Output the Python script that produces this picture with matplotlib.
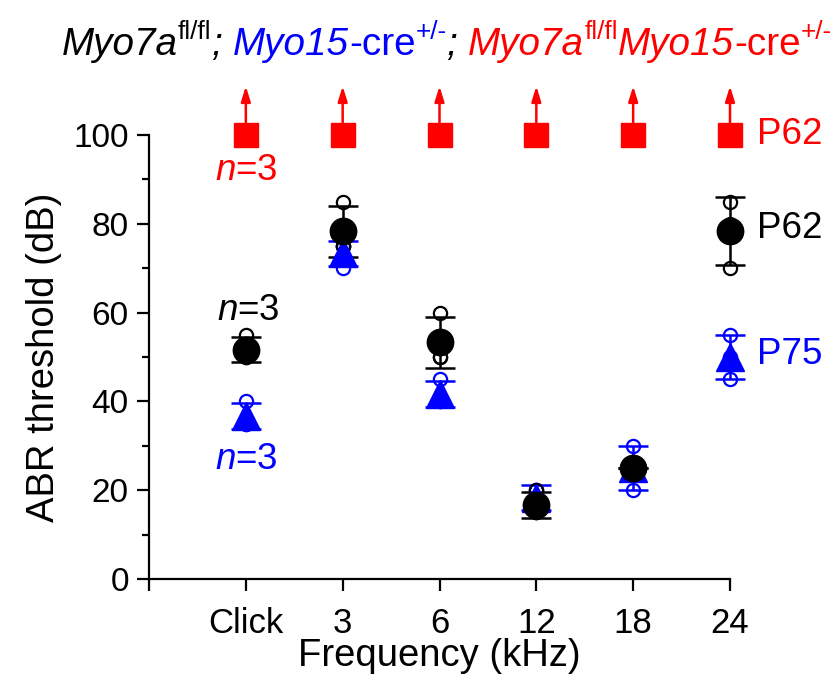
import numpy as np
import matplotlib
matplotlib.use("Agg")
import matplotlib.pyplot as plt

plt.rcParams['font.family'] = ['Liberation Sans', 'DejaVu Sans']
plt.rcParams['mathtext.fontset'] = 'custom'
plt.rcParams['mathtext.rm'] = 'Liberation Sans'
plt.rcParams['mathtext.it'] = 'Liberation Sans:italic'

# ---- data ----
categories = ['Click', '3', '6', '12', '18', '24']
ctrl_individual = [[55, 50, 50], [85, 75, 75], [60, 50, 50],
                   [20, 15, 15], [25, 25, 25], [85, 80, 70]]   # Myo7a fl/fl, P62
cre_individual = [[40, 35, 35], [75, 75, 70], [45, 40, 40],
                  [20, 20, 15], [30, 25, 20], [55, 50, 45]]    # Myo15-cre+/-, P75
cko_threshold = [100, 100, 100, 100, 100, 100]                 # Myo7a fl/fl Myo15-cre+/-, P62 (no response)

BLACK = 'black'
BLUE = '#0000FF'
RED = '#FF0000'

fig = plt.figure(figsize=(8.4, 6.84), dpi=100)
ax = fig.add_axes([149/840, 1-579/684, (730-149)/840, (579-135)/684])

x = np.arange(1, len(categories) + 1)

def draw_group(ind, color, marker, ms):
    arr = np.array(ind, dtype=float)
    mean = arr.mean(axis=1)
    sd = arr.std(axis=1, ddof=1)
    ax.errorbar(x, mean, yerr=sd, fmt='none', ecolor=color, elinewidth=1.8,
                capsize=11, capthick=1.8, clip_on=False, zorder=3)
    for i in range(arr.shape[1]):
        ax.plot(x, arr[:, i], 'o', ms=9.5, mfc='none', mec=color, mew=1.6,
                clip_on=False, zorder=3.5)
    ax.plot(x, mean, marker, ms=ms, color=color, mec=color, clip_on=False, zorder=4)

draw_group(cre_individual, BLUE, '^', 20)
draw_group(ctrl_individual, BLACK, 'o', 19)

# knockout: no response at max level
ax.plot(x, cko_threshold, 's', ms=17, color=RED, clip_on=False, zorder=4)
for xi, yi in zip(x, cko_threshold):
    ax.annotate('', xy=(xi, yi + 11), xytext=(xi, yi + 1.5),
                arrowprops=dict(arrowstyle='-|>,head_length=0.9,head_width=0.28',
                                color=RED, lw=1.8, shrinkA=0, shrinkB=0),
                annotation_clip=False)

# axes styling
ax.set_xlim(0, 6)
ax.set_ylim(0, 100)
ax.set_xticks(np.arange(0, 7))
ax.set_xticklabels([''] + categories)
ax.set_yticks(np.arange(0, 101, 20))
ax.set_yticks(np.arange(10, 100, 20), minor=True)
for s in ['top', 'right']:
    ax.spines[s].set_visible(False)
for s in ['left', 'bottom']:
    ax.spines[s].set_linewidth(1.6)
ax.tick_params(axis='both', which='major', direction='out', length=8.5, width=1.6, pad=6)
ax.tick_params(axis='x', labelsize=25, pad=12)
ax.tick_params(axis='y', labelsize=24, pad=6)
ax.tick_params(axis='y', which='minor', direction='out', length=5, width=1.6)
ax.set_xlabel('Frequency (kHz)', fontsize=27.5, labelpad=-2)
ax.set_ylabel('ABR threshold (dB)', fontsize=27.5, labelpad=8)

# annotations
ANN = 26.5
ax.text(6.28, 79, 'P62', color=BLACK, fontsize=ANN, va='center', ha='left', clip_on=False)
ax.text(6.28, 50.5, 'P75', color=BLUE, fontsize=ANN, va='center', ha='left', clip_on=False)
ax.text(6.28, 100, 'P62', color=RED, fontsize=ANN, va='center', ha='left', clip_on=False)
ax.text(1.03, 60.5, r'$\mathit{n}$=3', color=BLACK, fontsize=ANN, va='center', ha='center')
ax.text(1.0, 27, r'$\mathit{n}$=3', color=BLUE, fontsize=ANN, va='center', ha='center')
ax.text(1.0, 92, r'$\mathit{n}$=3', color=RED, fontsize=ANN, va='center', ha='center')

# multi-coloured title: (text, colour, italic, superscript)
pieces = [
    ('Myo7a', BLACK, True, False), ('fl/fl', BLACK, False, True), ('; ', BLACK, True, False),
    ('Myo15', BLUE, True, False), ('-cre', BLUE, False, False), ('+/-', BLUE, False, True),
    ('; ', BLACK, True, False),
    ('Myo7a', RED, True, False), ('fl/fl', RED, False, True),
    ('Myo15', RED, True, False), ('-cre', RED, False, False), ('+/-', RED, False, True),
]
renderer = fig.canvas.get_renderer()

def layout_title(fs, draw):
    xpx = 62.0
    base = 684 - 55.0
    made = []
    for txt, col, it, sup in pieces:
        size = fs * 0.68 if sup else fs
        ypx = base + (fs * 0.42 * 100 / 72 if sup else 0)
        t = fig.text(xpx / 840, ypx / 684, txt, color=col, fontsize=size,
                     fontstyle='italic' if it else 'normal', ha='left', va='baseline')
        xpx += t.get_window_extent(renderer).width
        made.append(t)
    if not draw:
        for t in made:
            t.remove()
    return xpx - 62.0

FS0 = 24.0
wid = layout_title(FS0, False)
fs = min(FS0 * 772.0 / wid, 30)
layout_title(fs, True)

fig.savefig('out.png', dpi=100)
